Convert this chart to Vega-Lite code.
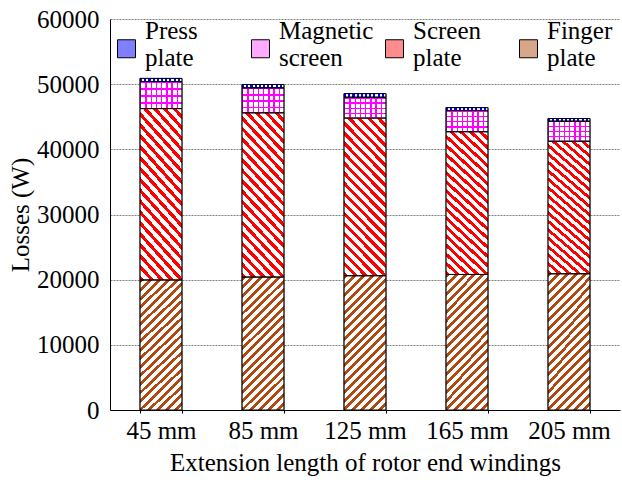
{
  "$schema": "https://vega.github.io/schema/vega-lite/v6.json",
  "width": 510,
  "height": 391,
  "autosize": {"type": "none"},
  "padding": {"left": 110, "top": 19, "right": 2, "bottom": 72},
  "background": "white",
  "config": {
    "font": "Liberation Serif",
    "view": {"stroke": null},
    "axis": {
      "labelFont": "Liberation Serif",
      "labelFontSize": 25,
      "labelColor": "black",
      "titleFont": "Liberation Serif",
      "titleFontSize": 25,
      "titleFontWeight": "normal",
      "titleColor": "black",
      "domainColor": "black",
      "tickColor": "black"
    },
    "legend": {"labelFont": "Liberation Serif", "labelFontSize": 25, "labelColor": "black"}
  },
  "data": {
    "values": [
      {"length": "45 mm", "part": "Finger plate", "value": 19950},
      {"length": "45 mm", "part": "Screen plate", "value": 26300},
      {"length": "45 mm", "part": "Magnetic screen", "value": 4150},
      {"length": "45 mm", "part": "Press plate", "value": 480},
      {"length": "85 mm", "part": "Finger plate", "value": 20400},
      {"length": "85 mm", "part": "Screen plate", "value": 25200},
      {"length": "85 mm", "part": "Magnetic screen", "value": 3840},
      {"length": "85 mm", "part": "Press plate", "value": 510},
      {"length": "125 mm", "part": "Finger plate", "value": 20600},
      {"length": "125 mm", "part": "Screen plate", "value": 24200},
      {"length": "125 mm", "part": "Magnetic screen", "value": 3200},
      {"length": "125 mm", "part": "Press plate", "value": 550},
      {"length": "165 mm", "part": "Finger plate", "value": 20800},
      {"length": "165 mm", "part": "Screen plate", "value": 21900},
      {"length": "165 mm", "part": "Magnetic screen", "value": 3250},
      {"length": "165 mm", "part": "Press plate", "value": 450},
      {"length": "205 mm", "part": "Finger plate", "value": 20900},
      {"length": "205 mm", "part": "Screen plate", "value": 20350},
      {"length": "205 mm", "part": "Magnetic screen", "value": 3070},
      {"length": "205 mm", "part": "Press plate", "value": 410}
    ]
  },
  "transform": [
    {"stack": "value", "groupby": ["length"], "as": ["lo", "hi"]}
  ],
  "encoding": {
    "x": {
      "field": "length",
      "type": "nominal",
      "sort": ["45 mm", "85 mm", "125 mm", "165 mm", "205 mm"],
      "scale": {"paddingInner": 0.59, "paddingOuter": 0.295},
      "axis": {
        "title": "Extension length of rotor end windings",
        "labelAngle": 0,
        "tickBand": "extent",
        "tickSize": 3,
        "labelPadding": 5,
        "titlePadding": 7,
        "grid": false
      }
    },
    "y": {
      "field": "lo",
      "type": "quantitative",
      "scale": {"domain": [0, 60000], "nice": false},
      "axis": {
        "title": "Losses (W)",
        "values": [0, 10000, 20000, 30000, 40000, 50000, 60000],
        "format": "d",
        "grid": true,
        "gridColor": "#808080",
        "gridDash": [2, 1],
        "ticks": false,
        "labelPadding": 11,
        "titlePadding": 3
      }
    },
    "y2": {"field": "hi"}
  },
  "layer": [
    {
      "mark": {"type": "bar", "stroke": "black", "strokeWidth": 1},
      "encoding": {
        "fill": {
          "field": "part",
          "type": "nominal",
          "scale": {
            "domain": ["Press plate", "Magnetic screen", "Screen plate", "Finger plate"],
            "range": ["#8080ff", "#ffaaff", "#ff8c8c", "#d9a68a"]
          },
          "legend": {
            "title": null,
            "orient": "none",
            "legendX": 4,
            "legendY": -1,
            "direction": "horizontal",
            "columns": 4,
            "gridAlign": "all",
            "columnPadding": 8,
            "rowPadding": 0,
            "padding": 0,
            "symbolType": "M-1,1H1V3H-1Z",
            "symbolSize": 324,
            "symbolStrokeColor": "black",
            "symbolStrokeWidth": 1,
            "symbolOpacity": 1,
            "labelFont": "Liberation Serif",
            "labelFontSize": 25,
            "labelColor": "black",
            "labelOffset": 6,
            "labelLimit": 300,
            "labelExpr": "split(datum.label, ' ')"
          }
        }
      }
    },
    {
      "mark": {"type": "bar"},
      "encoding": {
        "fill": {
          "condition": [
            {"test": "datum.part === 'Press plate'", "value": {"gradient": "linear", "x1": 0, "y1": 0, "x2": 1, "y2": 0, "stops": [
                {"offset": 0, "color": "#00f"}, {"offset": 0.05, "color": "#00f"}, {"offset": 0.05, "color": "#fff"}, {"offset": 0.1, "color": "#fff"},
                {"offset": 0.1, "color": "#00f"}, {"offset": 0.15, "color": "#00f"}, {"offset": 0.15, "color": "#fff"}, {"offset": 0.2, "color": "#fff"},
                {"offset": 0.2, "color": "#00f"}, {"offset": 0.25, "color": "#00f"}, {"offset": 0.25, "color": "#fff"}, {"offset": 0.3, "color": "#fff"},
                {"offset": 0.3, "color": "#00f"}, {"offset": 0.35, "color": "#00f"}, {"offset": 0.35, "color": "#fff"}, {"offset": 0.4, "color": "#fff"},
                {"offset": 0.4, "color": "#00f"}, {"offset": 0.45, "color": "#00f"}, {"offset": 0.45, "color": "#fff"}, {"offset": 0.5, "color": "#fff"},
                {"offset": 0.5, "color": "#00f"}, {"offset": 0.55, "color": "#00f"}, {"offset": 0.55, "color": "#fff"}, {"offset": 0.6, "color": "#fff"},
                {"offset": 0.6, "color": "#00f"}, {"offset": 0.65, "color": "#00f"}, {"offset": 0.65, "color": "#fff"}, {"offset": 0.7, "color": "#fff"},
                {"offset": 0.7, "color": "#00f"}, {"offset": 0.75, "color": "#00f"}, {"offset": 0.75, "color": "#fff"}, {"offset": 0.8, "color": "#fff"},
                {"offset": 0.8, "color": "#00f"}, {"offset": 0.85, "color": "#00f"}, {"offset": 0.85, "color": "#fff"}, {"offset": 0.9, "color": "#fff"},
                {"offset": 0.9, "color": "#00f"}, {"offset": 0.95, "color": "#00f"}, {"offset": 0.95, "color": "#fff"}, {"offset": 1, "color": "#fff"}
              ]}},
            {"test": "datum.part === 'Magnetic screen'", "value": {"gradient": "linear", "x1": 0, "y1": 0, "x2": 0, "y2": 1, "stops": [
                {"offset": 0, "color": "#f0f"}, {"offset": 0.0625, "color": "#f0f"}, {"offset": 0.0625, "color": "#fff"}, {"offset": 0.25, "color": "#fff"},
                {"offset": 0.25, "color": "#f0f"}, {"offset": 0.3125, "color": "#f0f"}, {"offset": 0.3125, "color": "#fff"}, {"offset": 0.5, "color": "#fff"},
                {"offset": 0.5, "color": "#f0f"}, {"offset": 0.5625, "color": "#f0f"}, {"offset": 0.5625, "color": "#fff"}, {"offset": 0.75, "color": "#fff"},
                {"offset": 0.75, "color": "#f0f"}, {"offset": 0.8125, "color": "#f0f"}, {"offset": 0.8125, "color": "#fff"}, {"offset": 1, "color": "#fff"}
              ]}},
            {"test": "datum.part === 'Screen plate'", "value": {"gradient": "linear", "x1": 0, "y1": 1, "x2": 0.3214, "y2": -0.1842, "stops": [
                {"offset": 0, "color": "#f00"}, {"offset": 0.0225, "color": "#f00"}, {"offset": 0.0225, "color": "#fff"}, {"offset": 0.05, "color": "#fff"},
                {"offset": 0.05, "color": "#f00"}, {"offset": 0.0725, "color": "#f00"}, {"offset": 0.0725, "color": "#fff"}, {"offset": 0.1, "color": "#fff"},
                {"offset": 0.1, "color": "#f00"}, {"offset": 0.1225, "color": "#f00"}, {"offset": 0.1225, "color": "#fff"}, {"offset": 0.15, "color": "#fff"},
                {"offset": 0.15, "color": "#f00"}, {"offset": 0.1725, "color": "#f00"}, {"offset": 0.1725, "color": "#fff"}, {"offset": 0.2, "color": "#fff"},
                {"offset": 0.2, "color": "#f00"}, {"offset": 0.2225, "color": "#f00"}, {"offset": 0.2225, "color": "#fff"}, {"offset": 0.25, "color": "#fff"},
                {"offset": 0.25, "color": "#f00"}, {"offset": 0.2725, "color": "#f00"}, {"offset": 0.2725, "color": "#fff"}, {"offset": 0.3, "color": "#fff"},
                {"offset": 0.3, "color": "#f00"}, {"offset": 0.3225, "color": "#f00"}, {"offset": 0.3225, "color": "#fff"}, {"offset": 0.35, "color": "#fff"},
                {"offset": 0.35, "color": "#f00"}, {"offset": 0.3725, "color": "#f00"}, {"offset": 0.3725, "color": "#fff"}, {"offset": 0.4, "color": "#fff"},
                {"offset": 0.4, "color": "#f00"}, {"offset": 0.4225, "color": "#f00"}, {"offset": 0.4225, "color": "#fff"}, {"offset": 0.45, "color": "#fff"},
                {"offset": 0.45, "color": "#f00"}, {"offset": 0.4725, "color": "#f00"}, {"offset": 0.4725, "color": "#fff"}, {"offset": 0.5, "color": "#fff"},
                {"offset": 0.5, "color": "#f00"}, {"offset": 0.5225, "color": "#f00"}, {"offset": 0.5225, "color": "#fff"}, {"offset": 0.55, "color": "#fff"},
                {"offset": 0.55, "color": "#f00"}, {"offset": 0.5725, "color": "#f00"}, {"offset": 0.5725, "color": "#fff"}, {"offset": 0.6, "color": "#fff"},
                {"offset": 0.6, "color": "#f00"}, {"offset": 0.6225, "color": "#f00"}, {"offset": 0.6225, "color": "#fff"}, {"offset": 0.65, "color": "#fff"},
                {"offset": 0.65, "color": "#f00"}, {"offset": 0.6725, "color": "#f00"}, {"offset": 0.6725, "color": "#fff"}, {"offset": 0.7, "color": "#fff"},
                {"offset": 0.7, "color": "#f00"}, {"offset": 0.7225, "color": "#f00"}, {"offset": 0.7225, "color": "#fff"}, {"offset": 0.75, "color": "#fff"},
                {"offset": 0.75, "color": "#f00"}, {"offset": 0.7725, "color": "#f00"}, {"offset": 0.7725, "color": "#fff"}, {"offset": 0.8, "color": "#fff"},
                {"offset": 0.8, "color": "#f00"}, {"offset": 0.8225, "color": "#f00"}, {"offset": 0.8225, "color": "#fff"}, {"offset": 0.85, "color": "#fff"},
                {"offset": 0.85, "color": "#f00"}, {"offset": 0.8725, "color": "#f00"}, {"offset": 0.8725, "color": "#fff"}, {"offset": 0.9, "color": "#fff"},
                {"offset": 0.9, "color": "#f00"}, {"offset": 0.9225, "color": "#f00"}, {"offset": 0.9225, "color": "#fff"}, {"offset": 0.95, "color": "#fff"},
                {"offset": 0.95, "color": "#f00"}, {"offset": 0.9725, "color": "#f00"}, {"offset": 0.9725, "color": "#fff"}, {"offset": 1, "color": "#fff"}
              ]}}
          ],
          "value": {"gradient": "linear", "x1": 0, "y1": 0, "x2": 0.373, "y2": 1.196, "stops": [
                {"offset": 0, "color": "#b04a12"}, {"offset": 0.0225, "color": "#b04a12"}, {"offset": 0.0225, "color": "#fff"}, {"offset": 0.05, "color": "#fff"},
                {"offset": 0.05, "color": "#b04a12"}, {"offset": 0.0725, "color": "#b04a12"}, {"offset": 0.0725, "color": "#fff"}, {"offset": 0.1, "color": "#fff"},
                {"offset": 0.1, "color": "#b04a12"}, {"offset": 0.1225, "color": "#b04a12"}, {"offset": 0.1225, "color": "#fff"}, {"offset": 0.15, "color": "#fff"},
                {"offset": 0.15, "color": "#b04a12"}, {"offset": 0.1725, "color": "#b04a12"}, {"offset": 0.1725, "color": "#fff"}, {"offset": 0.2, "color": "#fff"},
                {"offset": 0.2, "color": "#b04a12"}, {"offset": 0.2225, "color": "#b04a12"}, {"offset": 0.2225, "color": "#fff"}, {"offset": 0.25, "color": "#fff"},
                {"offset": 0.25, "color": "#b04a12"}, {"offset": 0.2725, "color": "#b04a12"}, {"offset": 0.2725, "color": "#fff"}, {"offset": 0.3, "color": "#fff"},
                {"offset": 0.3, "color": "#b04a12"}, {"offset": 0.3225, "color": "#b04a12"}, {"offset": 0.3225, "color": "#fff"}, {"offset": 0.35, "color": "#fff"},
                {"offset": 0.35, "color": "#b04a12"}, {"offset": 0.3725, "color": "#b04a12"}, {"offset": 0.3725, "color": "#fff"}, {"offset": 0.4, "color": "#fff"},
                {"offset": 0.4, "color": "#b04a12"}, {"offset": 0.4225, "color": "#b04a12"}, {"offset": 0.4225, "color": "#fff"}, {"offset": 0.45, "color": "#fff"},
                {"offset": 0.45, "color": "#b04a12"}, {"offset": 0.4725, "color": "#b04a12"}, {"offset": 0.4725, "color": "#fff"}, {"offset": 0.5, "color": "#fff"},
                {"offset": 0.5, "color": "#b04a12"}, {"offset": 0.5225, "color": "#b04a12"}, {"offset": 0.5225, "color": "#fff"}, {"offset": 0.55, "color": "#fff"},
                {"offset": 0.55, "color": "#b04a12"}, {"offset": 0.5725, "color": "#b04a12"}, {"offset": 0.5725, "color": "#fff"}, {"offset": 0.6, "color": "#fff"},
                {"offset": 0.6, "color": "#b04a12"}, {"offset": 0.6225, "color": "#b04a12"}, {"offset": 0.6225, "color": "#fff"}, {"offset": 0.65, "color": "#fff"},
                {"offset": 0.65, "color": "#b04a12"}, {"offset": 0.6725, "color": "#b04a12"}, {"offset": 0.6725, "color": "#fff"}, {"offset": 0.7, "color": "#fff"},
                {"offset": 0.7, "color": "#b04a12"}, {"offset": 0.7225, "color": "#b04a12"}, {"offset": 0.7225, "color": "#fff"}, {"offset": 0.75, "color": "#fff"},
                {"offset": 0.75, "color": "#b04a12"}, {"offset": 0.7725, "color": "#b04a12"}, {"offset": 0.7725, "color": "#fff"}, {"offset": 0.8, "color": "#fff"},
                {"offset": 0.8, "color": "#b04a12"}, {"offset": 0.8225, "color": "#b04a12"}, {"offset": 0.8225, "color": "#fff"}, {"offset": 0.85, "color": "#fff"},
                {"offset": 0.85, "color": "#b04a12"}, {"offset": 0.8725, "color": "#b04a12"}, {"offset": 0.8725, "color": "#fff"}, {"offset": 0.9, "color": "#fff"},
                {"offset": 0.9, "color": "#b04a12"}, {"offset": 0.9225, "color": "#b04a12"}, {"offset": 0.9225, "color": "#fff"}, {"offset": 0.95, "color": "#fff"},
                {"offset": 0.95, "color": "#b04a12"}, {"offset": 0.9725, "color": "#b04a12"}, {"offset": 0.9725, "color": "#fff"}, {"offset": 1, "color": "#fff"}
              ]}
        }
      }
    },
    {
      "mark": {"type": "bar", "stroke": "black", "strokeWidth": 1},
      "encoding": {
        "fill": {
          "condition": {"test": "datum.part === 'Magnetic screen'", "value": {"gradient": "linear", "x1": 0, "y1": 0, "x2": 1, "y2": 0, "stops": [
                {"offset": 0, "color": "#f0f"}, {"offset": 0.031, "color": "#f0f"}, {"offset": 0.031, "color": "rgba(255,255,255,0)"}, {"offset": 0.125, "color": "rgba(255,255,255,0)"},
                {"offset": 0.125, "color": "#f0f"}, {"offset": 0.156, "color": "#f0f"}, {"offset": 0.156, "color": "rgba(255,255,255,0)"}, {"offset": 0.25, "color": "rgba(255,255,255,0)"},
                {"offset": 0.25, "color": "#f0f"}, {"offset": 0.281, "color": "#f0f"}, {"offset": 0.281, "color": "rgba(255,255,255,0)"}, {"offset": 0.375, "color": "rgba(255,255,255,0)"},
                {"offset": 0.375, "color": "#f0f"}, {"offset": 0.406, "color": "#f0f"}, {"offset": 0.406, "color": "rgba(255,255,255,0)"}, {"offset": 0.5, "color": "rgba(255,255,255,0)"},
                {"offset": 0.5, "color": "#f0f"}, {"offset": 0.531, "color": "#f0f"}, {"offset": 0.531, "color": "rgba(255,255,255,0)"}, {"offset": 0.625, "color": "rgba(255,255,255,0)"},
                {"offset": 0.625, "color": "#f0f"}, {"offset": 0.656, "color": "#f0f"}, {"offset": 0.656, "color": "rgba(255,255,255,0)"}, {"offset": 0.75, "color": "rgba(255,255,255,0)"},
                {"offset": 0.75, "color": "#f0f"}, {"offset": 0.781, "color": "#f0f"}, {"offset": 0.781, "color": "rgba(255,255,255,0)"}, {"offset": 0.875, "color": "rgba(255,255,255,0)"},
                {"offset": 0.875, "color": "#f0f"}, {"offset": 0.906, "color": "#f0f"}, {"offset": 0.906, "color": "rgba(255,255,255,0)"}, {"offset": 1, "color": "rgba(255,255,255,0)"}
              ]}},
          "value": "transparent"
        }
      }
    }
  ]
}
